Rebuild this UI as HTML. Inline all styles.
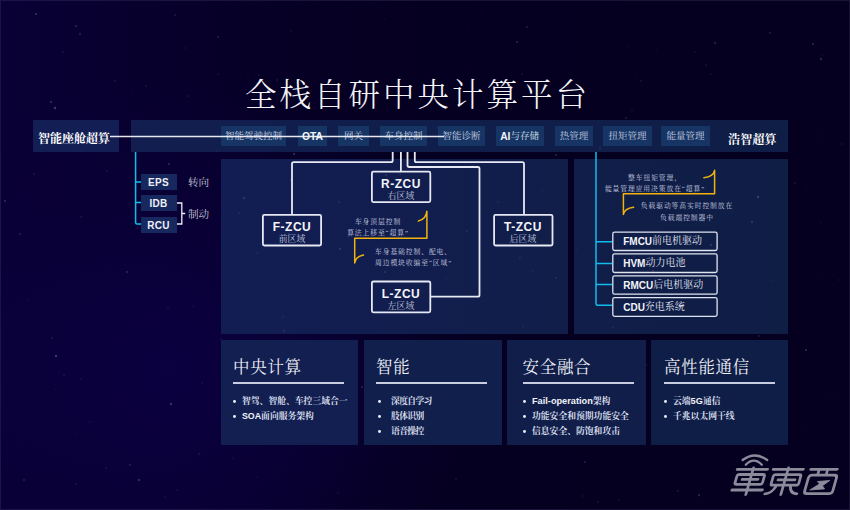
<!DOCTYPE html>
<html lang="zh-CN">
<head>
<meta charset="utf-8">
<title>全栈自研中央计算平台</title>
<style>
html,body{margin:0;padding:0;}
body{width:850px;height:510px;overflow:hidden;position:relative;background:#07002c;
 font-family:"Liberation Serif","Noto Serif CJK SC",serif;color:#fff;}
#bg{position:absolute;left:0;top:0;width:850px;height:510px;
 background:
  radial-gradient(circle at 170px 370px, rgba(11,0,64,1) 0px, rgba(11,0,64,0.55) 140px, rgba(11,0,64,0) 300px),
  linear-gradient(to right,#090035 0px,#08002f 100px,#07002a 200px,#060024 300px,#050021 425px,#05001f 850px);}
#frame{position:absolute;left:0;top:0;width:848px;height:508px;border:1px solid rgba(150,140,200,0.14);}
.abs{position:absolute;}
.sans{font-family:"Liberation Sans","Noto Sans CJK SC",sans-serif;}
.serif{font-family:"Liberation Serif","Noto Serif CJK SC",serif;}
#title{left:0;top:73.5px;width:850px;height:44px;line-height:44px;text-align:center;font-size:31.5px;letter-spacing:3px;
 color:#f4f4f8;font-weight:300;text-indent:-15px;white-space:nowrap;}
.panel{position:absolute;}
#lbl{left:33px;top:120px;width:86px;height:32px;background:#121e54;}
#lbl span{position:absolute;left:5px;top:1px;line-height:36px;font-size:12px;font-weight:700;white-space:nowrap;color:#ffffff;}
#bar{left:131px;top:120px;width:657px;height:32px;background:linear-gradient(to right,#111e4f,#101e4a 60%,#0f1e46);}
.chip{position:absolute;top:126px;height:20px;line-height:20px;background:#163564;color:#c9d0e2;font-size:9.5px;text-align:center;white-space:nowrap;}
.chip b{font-family:"Liberation Sans",sans-serif;font-weight:700;color:#f2f4fa;font-size:10.3px;position:relative;top:0.8px;}
#hz{left:728px;top:121.5px;line-height:36px;font-size:12px;font-weight:700;white-space:nowrap;color:#ffffff;letter-spacing:0.2px;}
#main{left:221px;top:159px;width:347px;height:175px;background:linear-gradient(to right,#121d53,#111e49);}
#right{left:574px;top:159px;width:214px;height:175px;background:linear-gradient(to right,#101e49,#0f1e45);}
.sbox{position:absolute;left:140.5px;width:36px;height:16px;line-height:17px;background:#16285e;color:#eef0f8;
 font-family:"Liberation Sans",sans-serif;font-weight:700;font-size:10px;text-align:center;letter-spacing:0.3px;}
.slab{position:absolute;left:188px;font-size:10.6px;color:#c4c6d6;line-height:14px;white-space:nowrap;}
.zcu{position:absolute;width:60px;height:32px;text-align:center;}
.zcu b{display:block;font-family:"Liberation Sans",sans-serif;font-weight:700;font-size:12px;line-height:12px;margin-top:6.9px;color:#f4f5fb;letter-spacing:0.5px;}
.zcu i{display:block;font-style:normal;font-size:8.8px;line-height:10px;margin-top:1px;color:#c3c8de;}
.note{position:absolute;font-size:6.8px;letter-spacing:0.9px;line-height:11.2px;color:#cbd0e0;white-space:nowrap;font-weight:400;}
.rbox{position:absolute;left:612px;width:106px;height:20px;line-height:20.4px;
 font-size:10px;color:#e2e5f2;white-space:nowrap;}
.rbox span{position:absolute;left:11.2px;top:0;}
.rbox b{font-family:"Liberation Sans",sans-serif;font-weight:700;font-size:10px;color:#f4f5fb;position:relative;top:1.2px;}
.card{position:absolute;top:340px;height:105px;background:#121f50;}
.card h3{position:absolute;left:12px;top:15.5px;margin:0;font-size:16.5px;line-height:24px;font-weight:400;letter-spacing:0.7px;color:#eef0f8;white-space:nowrap;}
.card .ul{position:absolute;left:12px;top:42.3px;width:111px;height:1.5px;background:#c9cde0;}
.card ul{position:absolute;left:12px;top:54px;margin:0;padding:0;list-style:none;}
.card li{position:relative;font-size:8.8px;line-height:15px;height:15px;color:#dadfee;white-space:nowrap;padding-left:9px;font-weight:700;}
.card li:before{content:"";position:absolute;left:0.4px;top:6.1px;width:2.9px;height:2.9px;border-radius:50%;background:#e6e8f2;}
.card li b{font-family:"Liberation Sans",sans-serif;font-weight:700;font-size:8.8px;color:#f0f2f8;}
.card.w li{padding-left:15px;letter-spacing:-0.65px;}
.card.w li:before{left:1.8px;}
svg{position:absolute;left:0;top:0;}
</style>
</head>
<body>
<div id="bg"></div>
<div id="frame"></div>

<div id="title" class="abs serif">全栈自研中央计算平台</div>

<div id="lbl" class="panel"><span>智能座舱超算</span></div>
<div id="bar" class="panel"></div>

<div class="chip" style="left:221px;width:65px;">智能驾驶控制</div>
<div class="chip" style="left:298px;width:29px;"><b>OTA</b></div>
<div class="chip" style="left:338px;width:31px;">网关</div>
<div class="chip" style="left:380px;width:47px;">车身控制</div>
<div class="chip" style="left:438px;width:47px;">智能诊断</div>
<div class="chip" style="left:496px;width:48px;text-align:left;color:#dfe4f0;"><b style="margin-left:4.2px;">AI</b>与存储</div>
<div class="chip" style="left:555px;width:38px;">热管理</div>
<div class="chip" style="left:603px;width:49px;">扭矩管理</div>
<div class="chip" style="left:661px;width:49px;">能量管理</div>
<div id="hz" class="abs">浩智超算</div>

<div id="main" class="panel"></div>
<div id="right" class="panel"></div>

<svg id="stars" width="850" height="510" viewBox="0 0 850 510">
<circle cx="277" cy="80" r="1.2" fill="#a8a4e0" opacity="0.10"/><circle cx="695" cy="52" r="1.0" fill="#8a6ad0" opacity="0.10"/><circle cx="185" cy="48" r="0.8" fill="#b8b8f0" opacity="0.10"/><circle cx="81" cy="217" r="1.0" fill="#b8b8f0" opacity="0.10"/>
<circle cx="535" cy="296" r="0.5" fill="#8a6ad0" opacity="0.28"/><circle cx="338" cy="493" r="0.5" fill="#b8b8f0" opacity="0.28"/><circle cx="248" cy="77" r="0.5" fill="#9088d0" opacity="0.28"/><circle cx="476" cy="346" r="0.5" fill="#8a6ad0" opacity="0.28"/>
<circle cx="542" cy="191" r="1.0" fill="#8a6ad0" opacity="0.10"/><circle cx="55" cy="108" r="1.2" fill="#c0c8ff" opacity="0.28"/><circle cx="658" cy="238" r="0.8" fill="#9088d0" opacity="0.18"/><circle cx="214" cy="95" r="0.6" fill="#8a6ad0" opacity="0.10"/>
<circle cx="257" cy="253" r="0.7" fill="#9088d0" opacity="0.22"/><circle cx="517" cy="42" r="1.0" fill="#b8b8f0" opacity="0.22"/><circle cx="641" cy="81" r="0.8" fill="#a8a4e0" opacity="0.22"/><circle cx="813" cy="44" r="1.0" fill="#9088d0" opacity="0.28"/>
<circle cx="291" cy="180" r="0.8" fill="#c0c8ff" opacity="0.28"/><circle cx="63" cy="52" r="0.7" fill="#a8a4e0" opacity="0.22"/><circle cx="56" cy="356" r="1.2" fill="#c0c8ff" opacity="0.28"/><circle cx="244" cy="198" r="1.2" fill="#a8a4e0" opacity="0.18"/>
<circle cx="795" cy="183" r="1.0" fill="#c0c8ff" opacity="0.10"/><circle cx="55" cy="389" r="0.6" fill="#c0c8ff" opacity="0.14"/><circle cx="333" cy="441" r="0.5" fill="#c0c8ff" opacity="0.14"/><circle cx="342" cy="144" r="0.6" fill="#8a6ad0" opacity="0.22"/>
<circle cx="239" cy="213" r="0.7" fill="#b8b8f0" opacity="0.22"/><circle cx="132" cy="93" r="0.6" fill="#a8a4e0" opacity="0.14"/><circle cx="412" cy="300" r="0.7" fill="#a8a4e0" opacity="0.18"/><circle cx="127" cy="272" r="1.0" fill="#9088d0" opacity="0.28"/>
<circle cx="806" cy="350" r="1.0" fill="#a8a4e0" opacity="0.28"/><circle cx="389" cy="440" r="1.2" fill="#c0c8ff" opacity="0.28"/><circle cx="339" cy="202" r="0.8" fill="#a8a4e0" opacity="0.22"/><circle cx="165" cy="497" r="0.8" fill="#a8a4e0" opacity="0.14"/>
<circle cx="291" cy="31" r="0.5" fill="#b8b8f0" opacity="0.28"/><circle cx="456" cy="479" r="1.0" fill="#a8a4e0" opacity="0.10"/><circle cx="739" cy="312" r="0.6" fill="#9088d0" opacity="0.18"/><circle cx="511" cy="242" r="0.5" fill="#c0c8ff" opacity="0.22"/>
<circle cx="409" cy="161" r="0.6" fill="#9088d0" opacity="0.10"/><circle cx="627" cy="244" r="1.2" fill="#8a6ad0" opacity="0.14"/><circle cx="24" cy="480" r="1.0" fill="#b8b8f0" opacity="0.18"/><circle cx="585" cy="462" r="1.0" fill="#a8a4e0" opacity="0.18"/>
<circle cx="590" cy="136" r="0.7" fill="#9088d0" opacity="0.14"/><circle cx="653" cy="271" r="1.0" fill="#b8b8f0" opacity="0.18"/><circle cx="520" cy="399" r="0.6" fill="#c0c8ff" opacity="0.14"/><circle cx="626" cy="118" r="1.0" fill="#9088d0" opacity="0.22"/>
<circle cx="619" cy="500" r="0.7" fill="#9088d0" opacity="0.22"/><circle cx="168" cy="308" r="0.7" fill="#9088d0" opacity="0.22"/><circle cx="807" cy="187" r="0.6" fill="#b8b8f0" opacity="0.10"/><circle cx="400" cy="174" r="0.8" fill="#8a6ad0" opacity="0.28"/>
<circle cx="711" cy="245" r="1.2" fill="#a8a4e0" opacity="0.18"/><circle cx="706" cy="65" r="0.8" fill="#c0c8ff" opacity="0.14"/><circle cx="752" cy="222" r="1.2" fill="#a8a4e0" opacity="0.18"/><circle cx="678" cy="491" r="0.8" fill="#c0c8ff" opacity="0.22"/>
<circle cx="629" cy="47" r="0.6" fill="#b8b8f0" opacity="0.14"/><circle cx="28" cy="300" r="0.8" fill="#8a6ad0" opacity="0.14"/><circle cx="699" cy="495" r="1.2" fill="#b8b8f0" opacity="0.18"/><circle cx="466" cy="70" r="0.5" fill="#8a6ad0" opacity="0.10"/>
<circle cx="635" cy="75" r="0.6" fill="#a8a4e0" opacity="0.14"/><circle cx="217" cy="151" r="0.6" fill="#9088d0" opacity="0.28"/><circle cx="223" cy="215" r="0.6" fill="#9088d0" opacity="0.10"/><circle cx="759" cy="336" r="1.0" fill="#8a6ad0" opacity="0.22"/>
<circle cx="115" cy="81" r="1.0" fill="#c0c8ff" opacity="0.10"/><circle cx="657" cy="309" r="0.6" fill="#b8b8f0" opacity="0.14"/><circle cx="403" cy="368" r="1.0" fill="#9088d0" opacity="0.10"/><circle cx="578" cy="270" r="0.8" fill="#8a6ad0" opacity="0.10"/>
<circle cx="53" cy="101" r="0.5" fill="#8a6ad0" opacity="0.10"/><circle cx="385" cy="19" r="0.5" fill="#9088d0" opacity="0.22"/><circle cx="520" cy="258" r="1.0" fill="#9088d0" opacity="0.14"/><circle cx="385" cy="272" r="0.8" fill="#b8b8f0" opacity="0.28"/>
<circle cx="592" cy="443" r="0.7" fill="#b8b8f0" opacity="0.28"/><circle cx="711" cy="74" r="0.5" fill="#c0c8ff" opacity="0.22"/><circle cx="270" cy="341" r="0.8" fill="#b8b8f0" opacity="0.10"/><circle cx="567" cy="397" r="0.6" fill="#b8b8f0" opacity="0.18"/>
<circle cx="218" cy="74" r="0.8" fill="#a8a4e0" opacity="0.14"/><circle cx="340" cy="249" r="1.2" fill="#b8b8f0" opacity="0.14"/><circle cx="598" cy="502" r="0.8" fill="#c0c8ff" opacity="0.18"/><circle cx="169" cy="164" r="1.2" fill="#a8a4e0" opacity="0.18"/>
<circle cx="289" cy="234" r="1.2" fill="#c0c8ff" opacity="0.10"/><circle cx="283" cy="317" r="1.0" fill="#a8a4e0" opacity="0.10"/><circle cx="832" cy="399" r="0.5" fill="#9088d0" opacity="0.10"/><circle cx="233" cy="458" r="0.6" fill="#b8b8f0" opacity="0.18"/>
<circle cx="694" cy="430" r="1.2" fill="#c0c8ff" opacity="0.18"/><circle cx="130" cy="465" r="1.0" fill="#9088d0" opacity="0.22"/><circle cx="80" cy="34" r="1.2" fill="#c0c8ff" opacity="0.14"/><circle cx="757" cy="139" r="0.5" fill="#9088d0" opacity="0.10"/>
<circle cx="75" cy="433" r="0.5" fill="#a8a4e0" opacity="0.18"/><circle cx="386" cy="175" r="1.0" fill="#9088d0" opacity="0.22"/><circle cx="527" cy="27" r="1.2" fill="#a8a4e0" opacity="0.14"/><circle cx="819" cy="136" r="0.6" fill="#9088d0" opacity="0.14"/>
<circle cx="533" cy="271" r="0.6" fill="#c0c8ff" opacity="0.18"/><circle cx="425" cy="94" r="0.7" fill="#9088d0" opacity="0.10"/><circle cx="36" cy="14" r="1.0" fill="#b8b8f0" opacity="0.28"/><circle cx="437" cy="128" r="0.8" fill="#c0c8ff" opacity="0.10"/>
<circle cx="556" cy="278" r="0.8" fill="#9088d0" opacity="0.28"/><circle cx="583" cy="496" r="0.7" fill="#b8b8f0" opacity="0.14"/><circle cx="345" cy="179" r="0.5" fill="#a8a4e0" opacity="0.14"/><circle cx="64" cy="375" r="0.7" fill="#b8b8f0" opacity="0.22"/>
<circle cx="52" cy="338" r="0.8" fill="#9088d0" opacity="0.28"/><circle cx="508" cy="351" r="0.5" fill="#b8b8f0" opacity="0.22"/><circle cx="137" cy="228" r="0.7" fill="#9088d0" opacity="0.18"/><circle cx="822" cy="279" r="0.6" fill="#9088d0" opacity="0.10"/>
<circle cx="188" cy="96" r="0.7" fill="#a8a4e0" opacity="0.22"/><circle cx="404" cy="256" r="0.6" fill="#8a6ad0" opacity="0.14"/><circle cx="657" cy="50" r="0.5" fill="#c0c8ff" opacity="0.14"/><circle cx="498" cy="202" r="0.7" fill="#b8b8f0" opacity="0.18"/>
<circle cx="76" cy="484" r="0.6" fill="#c0c8ff" opacity="0.28"/><circle cx="647" cy="365" r="0.8" fill="#9088d0" opacity="0.14"/><circle cx="613" cy="327" r="0.5" fill="#c0c8ff" opacity="0.28"/><circle cx="621" cy="411" r="0.6" fill="#8a6ad0" opacity="0.28"/>
<circle cx="483" cy="411" r="0.5" fill="#b8b8f0" opacity="0.28"/><circle cx="76" cy="26" r="1.2" fill="#a8a4e0" opacity="0.18"/><circle cx="321" cy="231" r="0.5" fill="#8a6ad0" opacity="0.10"/><circle cx="577" cy="250" r="0.5" fill="#a8a4e0" opacity="0.22"/>
<circle cx="634" cy="256" r="1.0" fill="#8a6ad0" opacity="0.10"/><circle cx="60" cy="373" r="0.7" fill="#9088d0" opacity="0.10"/><circle cx="202" cy="383" r="0.6" fill="#c0c8ff" opacity="0.22"/><circle cx="715" cy="43" r="1.2" fill="#a8a4e0" opacity="0.18"/>
<circle cx="523" cy="326" r="0.5" fill="#b8b8f0" opacity="0.28"/><circle cx="284" cy="331" r="1.2" fill="#8a6ad0" opacity="0.18"/><circle cx="482" cy="11" r="0.5" fill="#9088d0" opacity="0.22"/><circle cx="822" cy="55" r="0.6" fill="#9088d0" opacity="0.22"/>
<circle cx="600" cy="148" r="0.8" fill="#a8a4e0" opacity="0.22"/><circle cx="839" cy="280" r="0.7" fill="#c0c8ff" opacity="0.10"/><circle cx="20" cy="234" r="1.0" fill="#9088d0" opacity="0.22"/><circle cx="330" cy="463" r="0.6" fill="#8a6ad0" opacity="0.10"/>
<circle cx="81" cy="379" r="0.7" fill="#b8b8f0" opacity="0.18"/><circle cx="512" cy="321" r="0.7" fill="#9088d0" opacity="0.10"/><circle cx="199" cy="454" r="0.8" fill="#a8a4e0" opacity="0.22"/><circle cx="139" cy="480" r="1.2" fill="#c0c8ff" opacity="0.22"/>
<circle cx="259" cy="75" r="0.7" fill="#9088d0" opacity="0.22"/><circle cx="107" cy="171" r="0.7" fill="#c0c8ff" opacity="0.18"/><circle cx="106" cy="468" r="1.2" fill="#9088d0" opacity="0.10"/><circle cx="218" cy="37" r="0.8" fill="#a8a4e0" opacity="0.28"/>
<circle cx="308" cy="219" r="0.7" fill="#9088d0" opacity="0.10"/><circle cx="90" cy="422" r="0.7" fill="#b8b8f0" opacity="0.14"/><circle cx="821" cy="223" r="0.7" fill="#9088d0" opacity="0.14"/><circle cx="665" cy="219" r="0.5" fill="#8a6ad0" opacity="0.22"/>
<circle cx="466" cy="365" r="0.5" fill="#c0c8ff" opacity="0.22"/><circle cx="522" cy="74" r="0.7" fill="#a8a4e0" opacity="0.22"/><circle cx="771" cy="280" r="0.6" fill="#c0c8ff" opacity="0.22"/><circle cx="294" cy="154" r="1.2" fill="#c0c8ff" opacity="0.18"/>
<circle cx="556" cy="155" r="1.0" fill="#a8a4e0" opacity="0.22"/><circle cx="146" cy="86" r="0.6" fill="#c0c8ff" opacity="0.28"/><circle cx="467" cy="231" r="0.7" fill="#c0c8ff" opacity="0.22"/><circle cx="122" cy="101" r="0.5" fill="#9088d0" opacity="0.14"/>
<circle cx="472" cy="165" r="0.7" fill="#8a6ad0" opacity="0.18"/><circle cx="175" cy="15" r="0.8" fill="#c0c8ff" opacity="0.22"/><circle cx="632" cy="110" r="0.7" fill="#a8a4e0" opacity="0.18"/><circle cx="423" cy="292" r="0.7" fill="#8a6ad0" opacity="0.14"/>
<circle cx="450" cy="400" r="0.6" fill="#9088d0" opacity="0.10"/><circle cx="758" cy="197" r="1.2" fill="#c0c8ff" opacity="0.22"/><circle cx="806" cy="429" r="0.5" fill="#a8a4e0" opacity="0.14"/><circle cx="362" cy="387" r="0.8" fill="#c0c8ff" opacity="0.28"/>
<circle cx="5" cy="201" r="1.0" fill="#c0c8ff" opacity="0.22"/><circle cx="214" cy="60" r="0.6" fill="#8a6ad0" opacity="0.14"/><circle cx="821" cy="59" r="1.2" fill="#a8a4e0" opacity="0.22"/><circle cx="468" cy="25" r="0.6" fill="#8a6ad0" opacity="0.14"/>
<circle cx="778" cy="328" r="0.7" fill="#9088d0" opacity="0.14"/><circle cx="449" cy="224" r="0.5" fill="#a8a4e0" opacity="0.10"/><circle cx="257" cy="477" r="0.6" fill="#9088d0" opacity="0.22"/><circle cx="193" cy="306" r="0.5" fill="#9088d0" opacity="0.28"/>
<circle cx="842" cy="144" r="0.7" fill="#c0c8ff" opacity="0.14"/><circle cx="447" cy="279" r="0.5" fill="#9088d0" opacity="0.22"/><circle cx="51" cy="102" r="1.2" fill="#a8a4e0" opacity="0.22"/><circle cx="221" cy="339" r="0.7" fill="#c0c8ff" opacity="0.14"/>
<circle cx="34" cy="174" r="0.8" fill="#c0c8ff" opacity="0.18"/><circle cx="171" cy="404" r="1.2" fill="#a8a4e0" opacity="0.28"/><circle cx="177" cy="490" r="0.7" fill="#b8b8f0" opacity="0.14"/><circle cx="396" cy="138" r="0.7" fill="#8a6ad0" opacity="0.10"/>
<circle cx="421" cy="99" r="0.6" fill="#c0c8ff" opacity="0.22"/><circle cx="770" cy="33" r="1.0" fill="#c0c8ff" opacity="0.14"/>
</svg>
<div class="sbox" style="top:174px;">EPS</div>
<div class="sbox" style="top:195px;">IDB</div>
<div class="sbox" style="top:217px;">RCU</div>
<div class="slab" style="top:175.5px;">转向</div>
<div class="slab" style="top:207.5px;">制动</div>

<div class="zcu" style="left:262px;top:214px;"><b>F-ZCU</b><i>前区域</i></div>
<div class="zcu" style="left:371px;top:171px;"><b>R-ZCU</b><i>右区域</i></div>
<div class="zcu" style="left:371px;top:281px;"><b>L-ZCU</b><i>左区域</i></div>
<div class="zcu" style="left:493px;top:214px;"><b>T-ZCU</b><i>后区域</i></div>

<div class="note" style="left:318px;width:120px;top:216px;text-align:center;">车身顶层控制<br>算法上移至“超算”</div>
<div class="note" style="left:375px;top:246px;">车身基础控制、配电、<br>周边模块收编至“区域”</div>
<div class="note" style="left:595px;width:120px;top:172px;text-align:center;">整车扭矩管理，<br>能量管理应用决策放在“超算”</div>
<div class="note" style="left:627px;width:120px;top:200.3px;text-align:center;">负载驱动等高实时控制放在<br>负载端控制器中</div>

<div class="rbox" style="top:231px;"><span><b>FMCU</b>前电机驱动</span></div>
<div class="rbox" style="top:253px;"><span><b>HVM</b>动力电池</span></div>
<div class="rbox" style="top:275px;"><span><b>RMCU</b>后电机驱动</span></div>
<div class="rbox" style="top:297px;"><span><b>CDU</b>充电系统</span></div>

<div class="card" style="left:221px;width:137px;"><h3>中央计算</h3><div class="ul"></div>
 <ul><li>智驾、智舱、车控三域合一</li><li><b>SOA</b>面向服务架构</li></ul></div>
<div class="card w" style="left:364px;width:138px;background:#111f4c;"><h3>智能</h3><div class="ul"></div>
 <ul><li>深度自学习</li><li>肢体识别</li><li>语音操控</li></ul></div>
<div class="card" style="left:507px;width:139px;background:#101e49;"><h3 style="left:15.5px;">安全融合</h3><div class="ul" style="left:16px;"></div>
 <ul style="left:16px;"><li><b style="font-size:9.2px;">Fail-operation</b>架构</li><li>功能安全和预期功能安全</li><li>信息安全、防饱和攻击</li></ul></div>
<div class="card" style="left:651px;width:137px;background:#0f1e46;"><h3 style="left:13px;">高性能通信</h3><div class="ul" style="left:13px;"></div>
 <ul style="left:13px;"><li>云端<b style="font-size:9.2px;">5G</b>通信</li><li>千兆以太网干线</li></ul></div>

<svg width="850" height="510" viewBox="0 0 850 510" fill="none">
 <!-- white line through top bar -->
 <path d="M110 136.4H444" stroke="#f2f2f8" stroke-width="1.5" opacity="0.95"/>
 <!-- left cyan tree -->
 <path d="M135.6 152V222.6Q135.6 224.1 137.1 224.1H141M135.6 182.1H141M135.6 202.6H141" stroke="#10bdec" stroke-width="1.5"/>
 <!-- bracket -->
 <path d="M177 203H181.8V224H177M181.8 213.5H185.2" stroke="#eceef6" stroke-width="1.3"/>
 <!-- zcu connectors -->
 <g stroke="#e6e8f4" stroke-width="1.8" stroke-linejoin="round">
  <path d="M392.7 152V160.5Q392.7 162.2 391 162.2H293.7Q292 162.2 292 163.9V214"/>
  <path d="M400.9 152V171"/>
  <path d="M407.5 152V165.3Q407.5 167 409.2 167H477.8Q479.5 167 479.5 168.7V295Q479.5 296.7 477.8 296.7H431"/>
  <path d="M414.8 152V160.5Q414.8 162.2 416.5 162.2H522.3Q524 162.2 524 163.9V214"/>
 </g>
 <!-- yellow brackets -->
 <g stroke="#f2b30e" stroke-width="1.5" stroke-linecap="round" stroke-linejoin="round">
  <path d="M418.4 221Q426 219.5 426.9 211.2V238.2H354.7V263Q355.5 256.5 363.5 255"/>
  <path d="M703.9 177.7Q713.5 176.5 714.6 170.3V193.8H623.4V214.4Q624.5 208.5 633.6 207.3"/>
 </g>
 <!-- right cyan tree -->
 <path d="M596 152V303.8Q596 305.3 597.5 305.3H612M596 241.7H612M596 263.6H612M596 284.4H612" stroke="#10bdec" stroke-width="1.5"/>

 <!-- boxes -->
 <g stroke="#e6e8f4" stroke-width="1.8" fill="none">
  <rect x="262.9" y="214.9" width="58.2" height="30.6" rx="1.5"/>
  <rect x="371.9" y="171.7" width="58.4" height="30.4" rx="1.5"/>
  <rect x="371.9" y="281.5" width="58.4" height="30.8" rx="1.5"/>
  <rect x="494.1" y="214.9" width="58.4" height="30.6" rx="1.5"/>
 </g>
 <g stroke="#e0e3f0" stroke-width="1.3" fill="none">
  <rect x="612.8" y="232.1" width="104.3" height="18.4" rx="1.8"/>
  <rect x="612.8" y="253.9" width="104.3" height="18.6" rx="1.8"/>
  <rect x="612.8" y="275.8" width="104.3" height="18.4" rx="1.8"/>
  <rect x="612.8" y="297.7" width="104.3" height="18.6" rx="1.8"/>
 </g>
 <!-- watermark logo -->
 <g id="logo" stroke="#8b8b9b" stroke-width="2.8" stroke-linecap="round" stroke-linejoin="round" fill="none">
  <path d="M742.6 460Q754.9 451 767.2 460M745.8 464.8Q753.8 456.6 761.8 464.8" stroke-width="2.3"/>
  <g transform="translate(0,495) skewX(-16) translate(0,-495)">
   <path d="M729.9 469.3H760.2M733.5 474.5H757Q759 474.5 759 476.5V482.3Q759 484.3 757 484.3H733.5Q731.5 484.3 731.5 482.3V476.5Q731.5 474.5 733.5 474.5ZM737.7 479.4H753.4M730.5 490H760.9M745.7 468V494.5"/>
   <path d="M765.8 469.3H796M769.9 474.6H793.4Q795.4 474.6 795.4 476.6V483.2Q795.4 485.2 793.4 485.2H769.9Q767.9 485.2 767.9 483.2V476.6Q767.9 474.6 769.9 474.6ZM773.7 479.9H790.6M780.7 468V494.5M773.5 486.5Q771 493.5 764.5 493.8M788 486.5Q789.5 493.5 796.5 493.8"/>
   <path d="M803.4 469.3H829.9M811.9 469.3V475.1M820.4 469.3V475.1M807 475.1H828.6Q831.6 475.1 831.6 478.1V490.7Q831.6 493.7 828.6 493.7H806.5Q803.5 493.7 803.5 490.7V478.1Q803.5 475.1 806.5 475.1Z"/>
  </g>
  <path d="M817.7 481.5L829.9 480.4L822.5 485.7L824.6 488.9L809.8 490L819.3 484.1Z" fill="#8d8d9d" stroke-width="0.8"/>
 </g>
</svg>
</body>
</html>
